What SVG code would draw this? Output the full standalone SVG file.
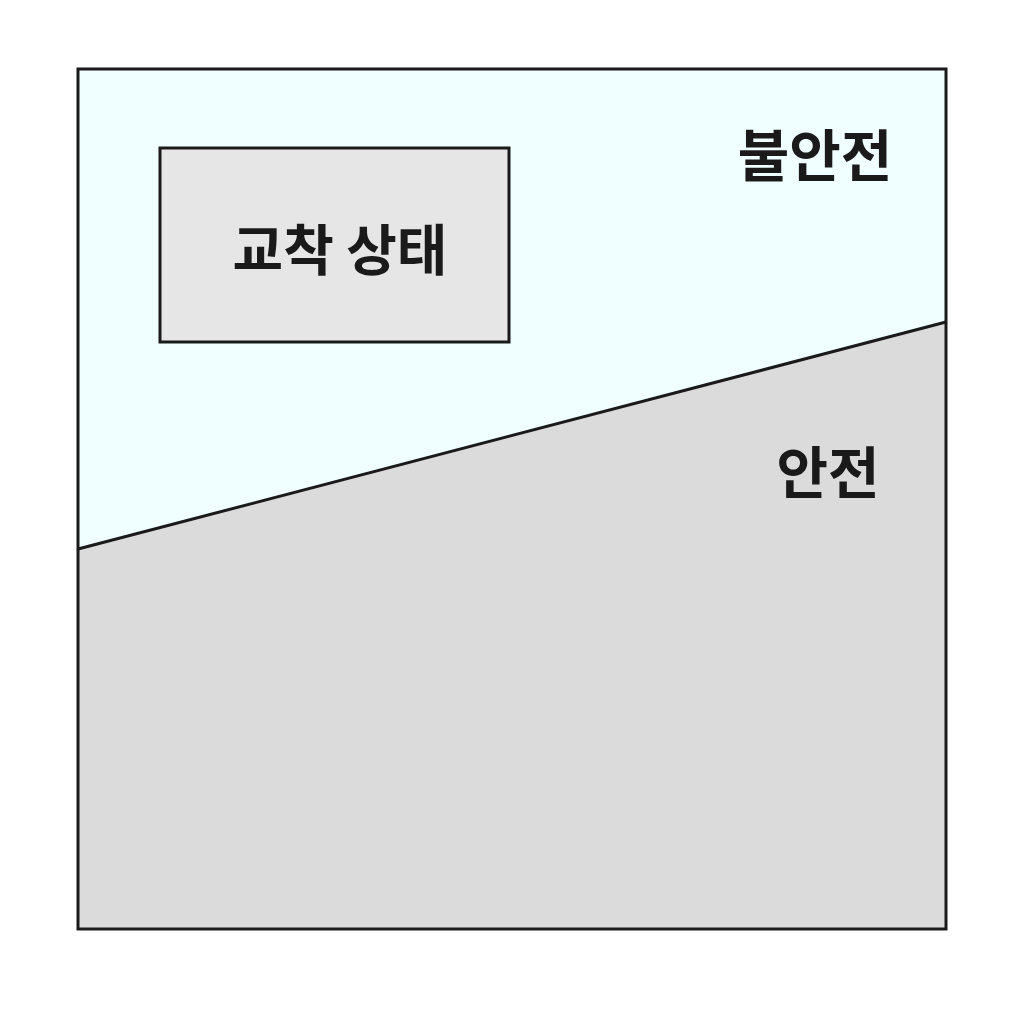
<svg xmlns="http://www.w3.org/2000/svg" width="1024" height="1024" viewBox="0 0 1024 1024">
<style>
.lbl{font-family:"Noto Sans CJK KR","Noto Sans",sans-serif;font-weight:700;fill:#1a1a1a;}
</style>
<rect width="1024" height="1024" fill="#ffffff"/>
<g id="unsafe-region">
<polygon points="78,69 946,69 946,322 78,549" fill="#F0FFFF"/>
</g>
<g id="safe-region">
<polygon points="78,549 946,322 946,929 78,929" fill="#DBDBDB"/>
</g>
<g id="connectors">
<line x1="78" y1="549" x2="946" y2="322" stroke="#1a1a1a" stroke-width="3"/>
</g>
<g id="frame">
<rect x="78" y="69" width="868" height="860" fill="none" stroke="#1a1a1a" stroke-width="3"/>
</g>
<g id="deadlock">
<rect x="160" y="148" width="349" height="194" fill="#E6E6E6" stroke="#1a1a1a" stroke-width="3"/>
<text class="lbl" x="340" y="270" font-size="55" text-anchor="middle">교착 상태</text>
</g>
<g id="label-unsafe">
<text class="lbl" x="815" y="176" font-size="56" text-anchor="middle">불안전</text>
</g>
<g id="label-safe">
<text class="lbl" x="828" y="493" font-size="56" text-anchor="middle">안전</text>
</g>
</svg>
